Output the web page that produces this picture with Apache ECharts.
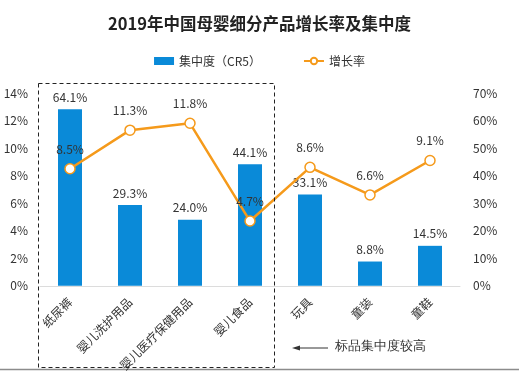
<!DOCTYPE html>
<html><head><meta charset="utf-8">
<script src="https://cdn.jsdelivr.net/npm/echarts@6/dist/echarts.min.js"></script>
<style>html,body{margin:0;padding:0;background:#fff}#c{width:519px;height:374px}</style>
</head><body><div id="c"></div>
<script>
const categories = ['纸尿裤','婴儿洗护用品','婴儿医疗保健用品','婴儿食品','玩具','童装','童鞋'];
const cr5 = [64.1, 29.3, 24.0, 44.1, 33.1, 8.8, 14.5];
const growth = [8.5, 11.3, 11.8, 4.7, 8.6, 6.6, 9.1];
const FONT = '"Noto Sans CJK SC", sans-serif';
const chart = echarts.init(document.getElementById('c'));
chart.setOption({
  animation: false,
  textStyle: {fontFamily: FONT},
  title: {text: '2019年中国母婴细分产品增长率及集中度', left: 'center', top: 10,
    textStyle: {fontSize: 16.5, fontWeight: 'bold', color: '#222', fontFamily: FONT}},
  legend: {top: 50, left: 'center', itemGap: 42, itemWidth: 20, itemHeight: 8,
    textStyle: {fontSize: 12, color: '#333', fontFamily: FONT},
    data: [{name: '集中度（CR5）', icon: 'rect'}, {name: '增长率'}]},
  grid: {left: 40, right: 59, top: 93, bottom: 88},
  xAxis: {type: 'category', data: categories,
    axisLine: {lineStyle: {color: '#dcdcdc'}},
    axisTick: {lineStyle: {color: '#dcdcdc'}},
    axisLabel: {rotate: 45, fontSize: 12, color: '#333', margin: 14, fontFamily: FONT}},
  yAxis: [
    {type: 'value', min: 0, max: 14, interval: 2, splitLine: {show: false},
      axisLabel: {formatter: '{value}%', color: '#333', fontSize: 12, margin: 12}},
    {type: 'value', min: 0, max: 70, interval: 10, splitLine: {show: false},
      axisLabel: {formatter: '{value}%', color: '#333', fontSize: 12, margin: 13}}
  ],
  series: [
    {name: '集中度（CR5）', type: 'bar', yAxisIndex: 1, data: cr5, barWidth: 24,
      itemStyle: {color: '#0a8ad8'},
      label: {show: true, position: 'top', formatter: p => p.value.toFixed(1) + '%', color: '#333', fontSize: 12, distance: 6}},
    {name: '增长率', type: 'line', yAxisIndex: 0, data: growth, z: 5,
      symbol: 'circle', symbolSize: 10,
      lineStyle: {color: '#f59a1b', width: 2.5},
      itemStyle: {color: '#fff', borderColor: '#f59a1b', borderWidth: 1.5},
      label: {show: true, position: 'top', formatter: p => p.value.toFixed(1) + '%', color: '#333', fontSize: 12, distance: 8}}
  ],
  graphic: [
    {type: 'rect', shape: {x: 38.5, y: 83.5, width: 236, height: 284}, silent: true,
      style: {fill: 'none', stroke: '#222', lineWidth: 1, lineDash: [4, 3]}, z: 10},
    {type: 'line', shape: {x1: 298, y1: 348, x2: 328, y2: 348}, style: {stroke: '#333', lineWidth: 1}},
    {type: 'polygon', shape: {points: [[292, 348], [300, 345.5], [300, 350.5]]}, style: {fill: '#333'}},
    {type: 'text', left: 335, top: 340, style: {text: '标品集中度较高', fontSize: 13, fill: '#333', font: '13px ' + FONT}},
    {type: 'line', shape: {x1: 0, y1: 369.5, x2: 519, y2: 369.5}, style: {stroke: '#8c8c8c', lineWidth: 1.5}}
  ]
});
</script></body></html>
